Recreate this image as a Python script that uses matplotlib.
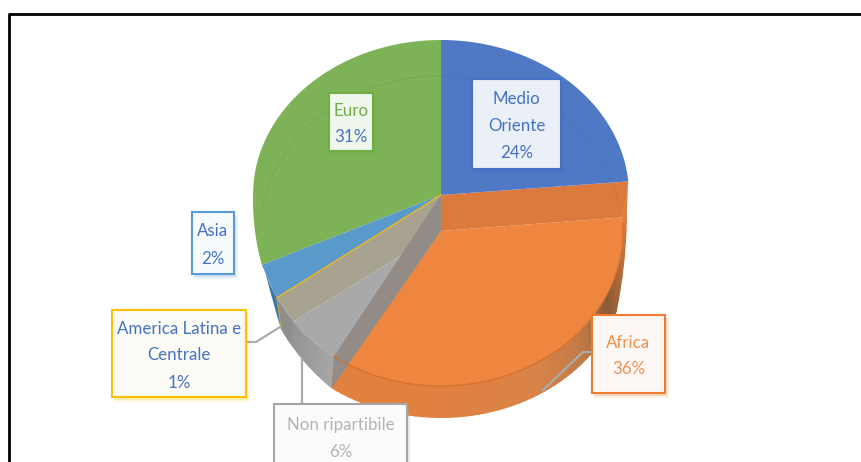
import numpy as np
import matplotlib
matplotlib.use('Agg')
import matplotlib.pyplot as plt
from matplotlib.colors import to_rgb
from matplotlib.patches import Rectangle

plt.rcParams['font.family'] = ['Lato', 'DejaVu Sans']

# clockwise from the top
regions = ['Medio Oriente', 'Africa', 'Non ripartibile', 'America Latina e Centrale', 'Asia', 'Euro']
shares = [23.6, 36.4, 6.45, 1.45, 2.2, 29.9]
pct_labels = ['24%', '36%', '6%', '1%', '2%', '31%']
label_lines = [['Medio', 'Oriente'], ['Africa'], ['Non ripartibile'],
               ['America Latina e', 'Centrale'], ['Asia'], ['Euro']]

# px geometry of the three stacked ellipses
CX = 441
RY = 155
TOP_Y, MID_Y, BOT_Y = 195, 231, 263
TOP_RX, MID_RX, BOT_RX = 188, 182, 186

bounds = np.cumsum([0] + shares) / sum(shares) * 360
blue_end, orange_end, gray_end, yellow_end, asia_end = bounds[1:6]


def pt(cy, rx, t):
    t = np.radians(t)
    return CX + rx * np.sin(t), cy - RY * np.cos(t)


def arc(cy, rx, t0, t1, n=80):
    x, y = pt(cy, rx, np.linspace(t0, t1, n))
    return list(zip(x, y))


def bottom_pt(t):
    # silhouette of the bottom ellipse, pulled in at both sides
    cy = np.interp(t, [blue_end, 110, orange_end, gray_end, yellow_end, asia_end], [TOP_Y, BOT_Y, BOT_Y, 250, 235, 217])
    return pt(cy, BOT_RX, t)


def edge_pt(t):
    # outline of the green and light blue slices on the left
    cy = np.interp(t, [yellow_end, asia_end, 275], [MID_Y, 218, TOP_Y])
    return pt(cy, TOP_RX, t)


def mix(a, b, f):
    a, b = np.array(to_rgb(a)), np.array(to_rgb(b))
    return tuple(a + (b - a) * f)


def poly(ax, pts, color, z=2, **kw):
    xs, ys = zip(*pts)
    ax.fill(xs, ys, color=color, lw=0, zorder=z, **kw)


def rim(ax, t0, t1, stops, colors, n=60):
    ts = np.linspace(t0, t1, n + 1)
    for a, b in zip(ts[:-1], ts[1:]):
        f = np.interp((a + b) / 2, stops, np.arange(len(stops)))
        i = min(int(f), len(colors) - 2)
        col = mix(colors[i], colors[i + 1], f - i)
        inner = [pt(MID_Y, MID_RX, a), pt(MID_Y, MID_RX, b + 0.4)]
        outer = [bottom_pt(b + 0.4), bottom_pt(a)]
        poly(ax, inner + outer, col, z=1)


fig = plt.figure(figsize=(8.62, 4.62), dpi=100)
ax = fig.add_axes([0, 0, 1, 1])
ax.set_xlim(0, 862)
ax.set_ylim(462, 0)
ax.axis('off')

# outer frame, only top and left are in view
ax.plot([9.5, 9.5], [462, 13.5], color='black', lw=2, solid_capstyle='butt', zorder=0)
ax.plot([8.5, 862], [13.5, 13.5], color='black', lw=2, solid_capstyle='butt', zorder=0)

# side wall
poly(ax, [pt(TOP_Y, TOP_RX, blue_end), pt(MID_Y, MID_RX, blue_end), bottom_pt(100)], '#E8843F', z=1)
rim(ax, blue_end, orange_end, [blue_end, 115, 130, 150, 185, orange_end],
    ['#E8843F', '#8A5A35', '#C07A45', '#D98348', '#E2803F', '#E2803F'])
rim(ax, orange_end, gray_end, [orange_end, gray_end], ['#A6A6A6', '#8E8E8E'], n=30)
poly(ax, [pt(MID_Y, MID_RX, gray_end - 5), pt(MID_Y, MID_RX, yellow_end), bottom_pt(gray_end), bottom_pt(gray_end - 5)],
     '#8E8E8A', z=1)
blue_rim = arc(MID_Y, MID_RX, yellow_end, asia_end, 20) + [bottom_pt(t) for t in np.linspace(asia_end, gray_end, 20)]
poly(ax, blue_rim, '#3F78A8', z=1)

# lower face
apex_mid = (CX, MID_Y)
poly(ax, [apex_mid] + arc(MID_Y, MID_RX, blue_end, orange_end - 5), '#EE8640')
poly(ax, [apex_mid] + arc(MID_Y, MID_RX, orange_end - 5, gray_end - 5), '#A9A9A9')

# translucent cut walls
apex_top = (CX, TOP_Y)
poly(ax, [apex_top, pt(MID_Y, MID_RX, yellow_end), pt(MID_Y, MID_RX, gray_end - 5), apex_mid],
     '#A8A290', z=3)
poly(ax, [apex_top, apex_mid, bottom_pt(orange_end), pt(MID_Y, MID_RX, orange_end)],
     '#938B86', z=4)
poly(ax, [apex_top, pt(TOP_Y, TOP_RX, blue_end), pt(MID_Y, MID_RX, blue_end), apex_mid],
     '#DC7A3E', z=4)

# arc between the orange face and the wall
arc_pts = np.array(arc(MID_Y, MID_RX, blue_end + 2, orange_end))
ax.plot(arc_pts[:, 0], arc_pts[:, 1], color='#D4702C', lw=0.9, zorder=5)

# upper face
poly(ax, [apex_top] + arc(TOP_Y, TOP_RX, 0, blue_end), '#5079C5', z=6)
green_pts = [edge_pt(t) for t in np.linspace(asia_end, 275, 30)] + arc(TOP_Y, TOP_RX, 275, 360)
poly(ax, [apex_top] + green_pts, '#7DB356', z=6)
poly(ax, [apex_top, pt(MID_Y, MID_RX, yellow_end), pt(MID_Y, MID_RX, yellow_end + 3), edge_pt(asia_end)],
     '#5A9ACB', z=6)

# yellow sliver
yx, yy = pt(MID_Y, MID_RX, yellow_end)
ax.plot([CX, yx], [TOP_Y, yy], color='#E8B526', lw=1.1, zorder=7)
bx, by = bottom_pt(gray_end)
ax.plot([yx, bx], [yy, by], color='#C9A63A', lw=0.7, zorder=7)

# faint lower ellipse seen through the upper face
ring = np.array(arc(MID_Y, MID_RX - 2, 278, 440, n=120))
ax.plot(ring[:, 0], ring[:, 1], color='#444444', lw=0.6, alpha=0.13, zorder=7)

# leader lines
for xs, ys in [([246, 256, 280], [342, 342, 327]), ([302, 302], [404, 360]), ([592, 583, 543], [352, 352, 390])]:
    ax.plot(xs, ys, color='#A9ADAD', lw=1.6, zorder=8, solid_joinstyle='miter')

# label boxes, same order as regions
boxes = [(472, 79, 89, 90), (592, 315, 73, 78), (274, 404, 133, 90),
         (112, 310, 134, 87), (192, 212, 42, 62), (329, 93, 44, 58)]
edge_colors = ['#4472C4', '#ED7D31', '#A5A5A5', '#FFC000', '#5B9BD5', '#70AD47']
face_colors = ['#EAEFF8', '#FDF8F5', '#FBFBFB', '#FCFBF5', '#F8FBFD', '#EFF6EA']
name_colors = ['#4472C4', '#F0914F', '#B4B4B4', '#4472C4', '#4472C4', '#70AD47']
pct_colors = ['#4472C4', '#F0914F', '#B4B4B4', '#4472C4', '#4472C4', '#4472C4']

for lines, pct, box, ec, fc, nc, pc in zip(label_lines, pct_labels, boxes, edge_colors,
                                           face_colors, name_colors, pct_colors):
    x, y, w, h = box
    # soft shadow
    ax.add_patch(Rectangle((x + 2, y + 3), w + 2, h + 2, fc=ec, alpha=0.12, lw=0, zorder=9))
    ax.add_patch(Rectangle((x + 2, y + 3), w, h, fc=ec, alpha=0.2, lw=0, zorder=9))
    ax.add_patch(Rectangle((x, y), w, h, fc=fc, ec=ec, lw=1.5, zorder=10))
    all_lines = lines + [pct]
    step = 27
    y0 = y + h / 2 - step * (len(all_lines) - 1) / 2 + 2
    if lines == ['Non ripartibile']:
        y0 = 425
    for i, s in enumerate(all_lines):
        col = pc if s == pct else nc
        ax.text(x + w / 2, y0 + i * step, s, color=col, fontsize=12.2,
                ha='center', va='center', zorder=11)

fig.savefig('out.png', dpi=100)
